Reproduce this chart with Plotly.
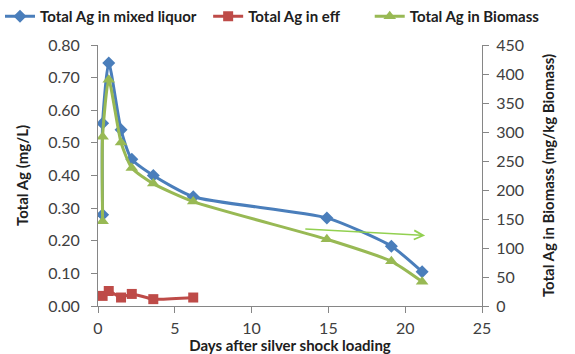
import plotly.graph_objects as go

# Data
days_ml = [0.3, 0.3, 0.7, 1.5, 2.2, 3.6, 6.2, 14.9, 19.1, 21.1]
ag_mixed_liquor = [0.28, 0.56, 0.745, 0.54, 0.45, 0.40, 0.335, 0.27, 0.183, 0.105]

days_eff = [0.3, 0.7, 1.5, 2.2, 3.6, 6.2]
ag_eff = [0.031, 0.046, 0.026, 0.037, 0.021, 0.026]

days_bio = [0.3, 0.3, 0.7, 1.5, 2.2, 3.6, 6.2, 14.9, 19.1, 21.1]
ag_biomass = [146, 292, 390, 282, 238, 211, 180, 115, 77, 42]

arrow_start = (13.4, 0.236)
arrow_end = (21.3, 0.216)

left_ticks = [0, 0.1, 0.2, 0.3, 0.4, 0.5, 0.6, 0.7, 0.8]
right_ticks = [0, 50, 100, 150, 200, 250, 300, 350, 400, 450]
x_ticks = [0, 5, 10, 15, 20, 25]

BLUE = "#4A7EBB"
RED = "#BE4B48"
GREEN = "#98B954"
ARROW = "#92D050"
FONT = "Lato"
TXT = "#404040"
AXC = "#868686"

fig = go.Figure()
fig.add_trace(go.Scatter(
    x=days_ml, y=ag_mixed_liquor, name="Total Ag in mixed liquor", legend="legend",
    mode="lines+markers", line=dict(color=BLUE, width=3, shape="spline", smoothing=0.6),
    marker=dict(symbol="diamond", size=10, color=BLUE)))
fig.add_trace(go.Scatter(
    x=days_eff, y=ag_eff, name="Total Ag in eff", legend="legend2",
    mode="lines+markers", line=dict(color=RED, width=3, shape="spline", smoothing=0.6),
    marker=dict(symbol="square", size=10, color=RED)))
fig.add_trace(go.Scatter(
    x=days_bio, y=ag_biomass, name="Total Ag in Biomass", yaxis="y2", legend="legend3",
    mode="lines+markers", line=dict(color=GREEN, width=3, shape="spline", smoothing=0.6),
    marker=dict(symbol="triangle-up", size=11, color=GREEN)))

fig.add_annotation(
    x=arrow_end[0], y=arrow_end[1], ax=arrow_start[0], ay=arrow_start[1],
    xref="x", yref="y", axref="x", ayref="y", text="",
    showarrow=True, arrowhead=5, arrowsize=1.2, arrowwidth=1.5, arrowcolor=ARROW)

axis_common = dict(showgrid=False, zeroline=False, showline=True, linecolor=AXC,
                   linewidth=1, ticks="outside", tickcolor=AXC, ticklen=6,
                   automargin=False,
                   tickfont=dict(family=FONT, size=16, color=TXT))

TITLE_FONT = dict(family=FONT, size=15, color="#202020")


def legend_at(xpos):
    return dict(orientation="h", xref="container", yref="container",
                x=xpos, y=1.0, xanchor="left", yanchor="top",
                font=dict(family=FONT, size=15, color="#202020", weight="bold"),
                itemwidth=30, bgcolor="rgba(0,0,0,0)")


fig.update_layout(
    width=575, height=354,
    margin=dict(l=98, r=93, t=45, b=48),
    paper_bgcolor="white", plot_bgcolor="white",
    font=dict(family=FONT, color=TXT),
    showlegend=True,
    legend=legend_at(0.0),
    legend2=legend_at(0.362),
    legend3=legend_at(0.643),
    xaxis=dict(range=[0, 25], tickvals=x_ticks, ticklabelstandoff=2,
               title=dict(text="<b>Days after silver shock loading</b>", standoff=14,
                          font=TITLE_FONT),
               **axis_common),
    yaxis=dict(range=[0, 0.8], tickvals=left_ticks, tickformat=".2f", ticklabelstandoff=8,
               title=dict(text="<b>Total Ag (mg/L)</b>", standoff=15, font=TITLE_FONT),
               **axis_common),
    yaxis2=dict(range=[0, 450], tickvals=right_ticks, overlaying="y", side="right",
                ticklabelstandoff=4,
                title=dict(text="<b>Total Ag in Biomass (mg/kg Biomass)</b>", standoff=20,
                           font=TITLE_FONT),
                **axis_common),
)

fig.write_html("out.html")
